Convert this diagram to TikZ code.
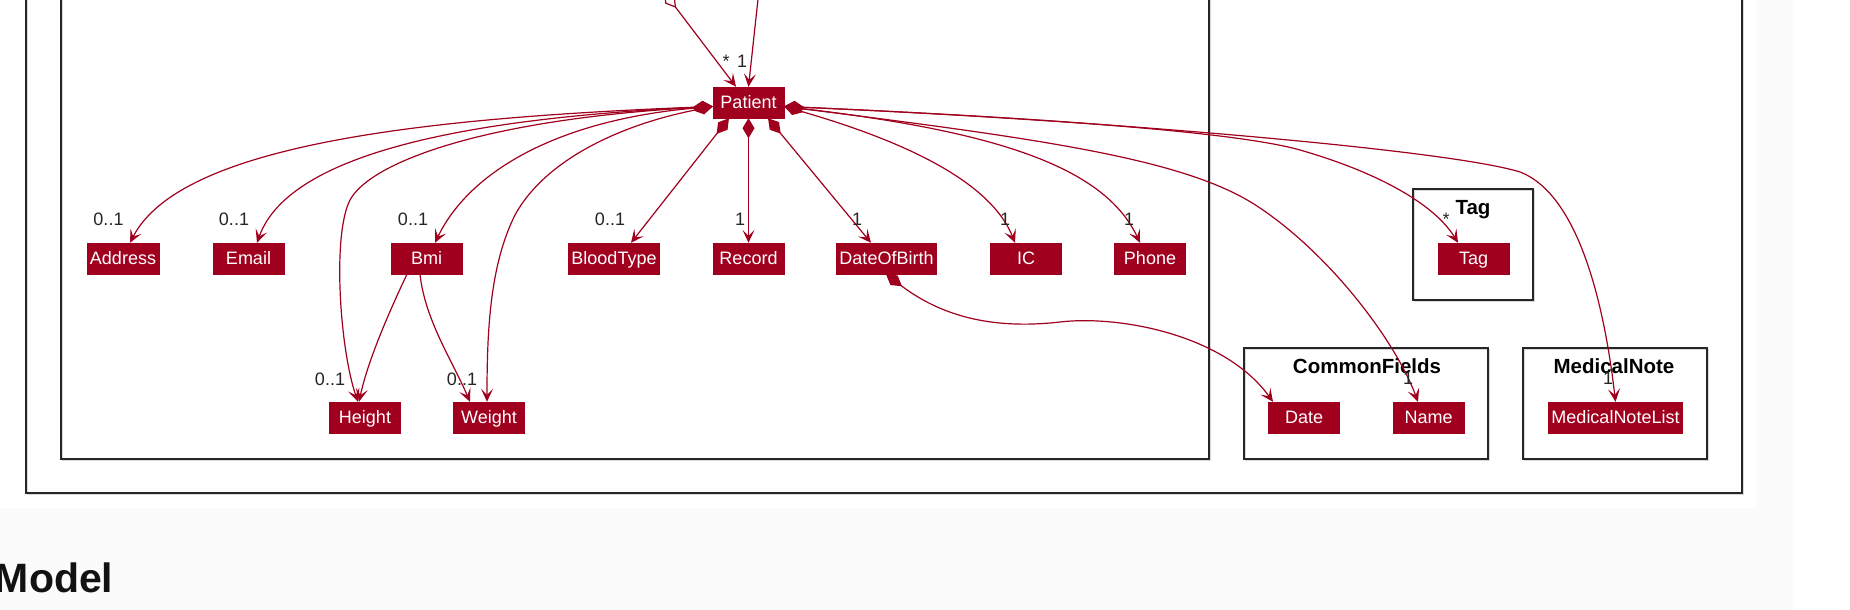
\documentclass[tikz,border=0pt]{standalone}
\usepackage{fontspec}
\setmainfont{Liberation Sans}
\usetikzlibrary{arrows.meta}
\definecolor{umlred}{HTML}{A0001E}
\definecolor{pagegray}{RGB}{251,251,251}

\begin{document}
\begin{tikzpicture}[x=1pt,y=-1pt,
  >={Stealth[length=13pt,width=12pt,inset=6pt]},
  cls/.style={rectangle,fill=umlred,draw=umlred,text=white,minimum width=71pt,
    minimum height=31pt,inner xsep=3pt,inner ysep=0pt,text height=12.9pt,text depth=0pt,
    font=\fontsize{18}{20}\selectfont},
  pkg/.style={draw=black!85,line width=1.8pt},
  pkgtitle/.style={font=\fontsize{20.5}{22}\selectfont\bfseries,anchor=base,inner sep=0pt},
  mult/.style={font=\fontsize{18}{20}\selectfont,text=black!85,anchor=base,inner sep=0pt},
  link/.style={draw=umlred,line width=1.2pt},
  comp/.style={link,{Diamond[length=20pt,width=12pt]}->}]

  \useasboundingbox (0,0) rectangle (1850,610);
  \clip (0,0) rectangle (1850,610);

  % Page background
  \fill[white] (0,0) rectangle (1850,610);
  \fill[pagegray] (0,0) rectangle (1793,610);
  \fill[white] (0,0) rectangle (1756,508);

  % Packages
  \foreach \a/\b/\c/\d in {26/-20/1742/493, 61/-20/1209/459, 1413/189/1533/300,
      1244/348/1488/459, 1523/348/1707/459} {
    \draw[black!15,line width=1.6pt] (\a+1.5,\b+1.5) rectangle (\c+1.5,\d+1.5);
    \draw[pkg] (\a,\b) rectangle (\c,\d);
  }
  \node[pkgtitle] (tagtitle) at (1473,214) {Tag};
  \node[pkgtitle] (commontitle) at (1367,373) {CommonFields};
  \node[pkgtitle] (notetitle) at (1614,373) {MedicalNote};

  % Classes
  \node[cls] (patient) at (748.5,102.5) {Patient};
  \foreach \n/\t/\x in {address/Address/123, email/Email/248.5, bmi/Bmi/426.5,
      bloodtype/BloodType/614, record/Record/748.5, dob/DateOfBirth/886.5,
      ic/IC/1026, phone/Phone/1150, tag/Tag/1473.5}
    \node[cls] (\n) at (\x,258.5) {\t};
  \foreach \n/\t/\x in {height/Height/365, weight/Weight/489, date/Date/1304,
      name/Name/1428.5, notelist/MedicalNoteList/1615.5}
    \node[cls] (\n) at (\x,417.5) {\t};

  % Links coming in from above
  \coordinate (outA) at (664,-8);
  \coordinate (outB) at (759,-10);
  \draw[link,{Diamond[open,length=20pt,width=12pt]}->] (outA) -- ([xshift=-12.5pt]patient.north);
  \draw[link,->] (outB) -- (patient.north);

  % Patient parts, left side
  \draw[comp] ([yshift=-4pt]patient.west) .. controls (420,118) and (180,145) .. ([xshift=7pt]address.north);
  \draw[comp] ([yshift=-4pt]patient.west) .. controls (480,118) and (290,150) .. ([xshift=8.5pt]email.north);
  \draw[comp] ([yshift=-4pt]patient.west) .. controls (480,120) and (370,163) .. (350,200)
    .. controls (332,235) and (340,350) .. ([xshift=-7pt]height.north);
  \draw[comp] ([yshift=-4pt]patient.west) .. controls (560,120) and (470,170) .. ([xshift=8.5pt]bmi.north);
  \draw[comp] ([yshift=-4pt]patient.west) .. controls (620,125) and (545,160) .. (515,215)
    .. controls (490,265) and (487,330) .. ([xshift=-2pt]weight.north);

  % Patient parts, below
  \draw[comp] ([xshift=-19.5pt]patient.south) -- ([xshift=17pt]bloodtype.north);
  \draw[comp] (patient.south) -- (record.north);
  \draw[comp] ([xshift=19.5pt]patient.south) -- ([xshift=-15.5pt]dob.north);

  % Patient parts, right side
  \draw[comp] ([yshift=-4pt]patient.east) .. controls (900,140) and (990,180) .. ([xshift=-11pt]ic.north);
  \draw[comp] ([yshift=-4pt]patient.east) .. controls (1000,132) and (1105,168) .. ([xshift=-10pt]phone.north);
  \draw[comp] ([yshift=-4pt]patient.east) .. controls (1050,140) and (1190,160) .. (1260,208)
    .. controls (1330,255) and (1395,340) .. ([xshift=-10.5pt]name.north);
  \draw[comp] ([yshift=-4pt]patient.east) .. controls (1000,116) and (1230,130) .. (1300,150)
    .. controls (1380,173) and (1435,205) .. ([xshift=-15.5pt]tag.north);
  \draw[comp] ([yshift=-4pt]patient.east) .. controls (1100,120) and (1450,150) .. (1520,172)
    .. controls (1580,195) and (1605,310) .. (notelist.north);

  % Bmi and DateOfBirth parts
  \draw[link,->] ([xshift=-19.5pt]bmi.south) .. controls (390,310) and (368,360) .. ([xshift=-6pt]height.north);
  \draw[link,->] ([xshift=-6.5pt]bmi.south) .. controls (425,320) and (452,360) .. ([xshift=-19pt]weight.north);
  \draw[comp] ([xshift=-0.5pt]dob.south) .. controls (940,315) and (990,330) .. (1060,322)
    .. controls (1120,315) and (1225,335) .. ([xshift=-31pt]date.north);

  % Multiplicities
  \foreach \t/\x/\y [count=\i] in {*/726/68, 1/742/68, 0..1/108.5/225, 0..1/234/225,
      0..1/413/225, 0..1/610/225, 1/740/225, 1/857/225, 1/1005/225, 1/1129/225,
      */1446/225, 0..1/330/385, 0..1/462/385, 1/1408/384, 1/1608/384}
    \node[mult] (m\i) at (\x,\y) {\t};

  % Heading below the diagram
  \node[font=\fontsize{41}{44}\selectfont\bfseries,text=black!93,anchor=base east,
    inner sep=0pt] (heading) at (113.5,592) {Model};
\end{tikzpicture}
\end{document}
